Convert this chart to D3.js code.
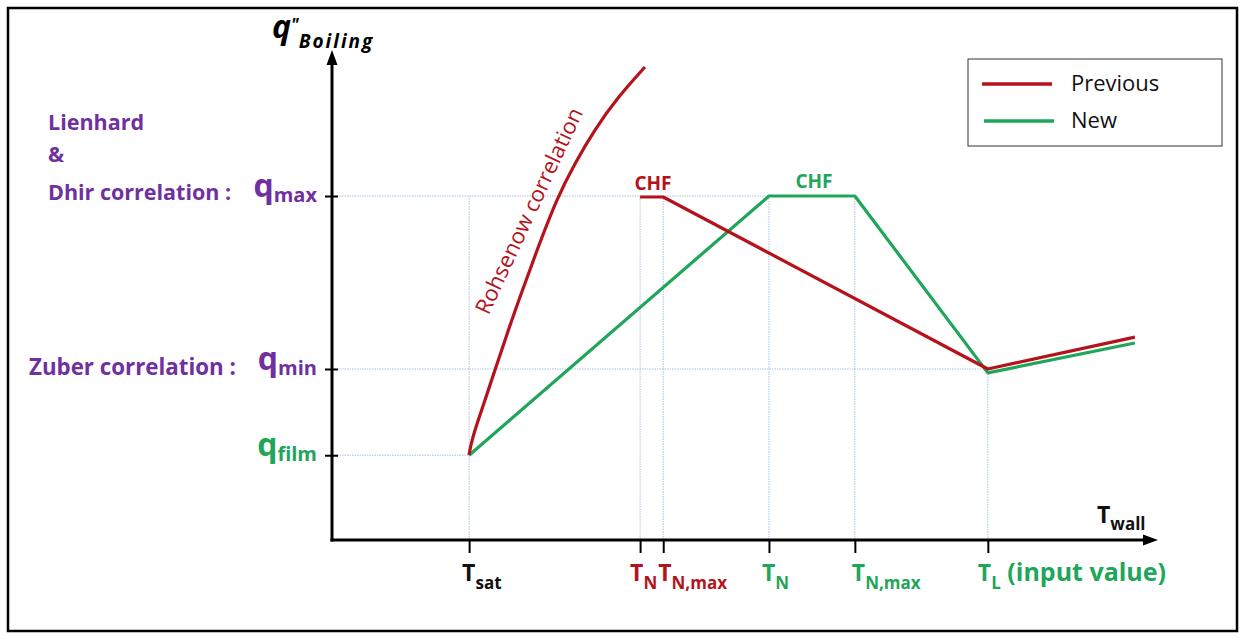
<!DOCTYPE html>
<html>
<head>
<meta charset="utf-8">
<script src="https://cdn.jsdelivr.net/npm/d3@7"></script>
<style>
html,body{margin:0;padding:0;background:#fff;}
svg{display:block;}
text{font-family:"Open Sans",Lato,sans-serif;}
</style>
</head>
<body>
<svg id="chart" width="1245" height="639"></svg>
<script>
// ---- data (abstract units) ----
const seriesNames = ["Previous", "New"];
const xTickValues = [16.6, 37.3, 40.1, 52.9, 63.3, 79.4];
const xTickMain = ["T", "T", "T", "T", "T", "T"];
const xTickSub = ["sat", "N", "N,max", "N", "N,max", "L"];
const xTickExtra = ["", "", "", "", "", " (input value)"];
const xTickColorKey = ["black", "prev", "prev", "new", "new", "new"];
const yTickValues = [70.2, 34.9, 17.3];
const yTickMain = ["q", "q", "q"];
const yTickSub = ["max", "min", "film"];
const yTickColorKey = ["purple", "purple", "new"];
const leftLabelLines = ["Lienhard", "&", "Dhir correlation :", "Zuber correlation :"];
// Rohsenow correlation (previous model, nucleate boiling part)
const prevRohsenow = [[16.59,17.35],[16.83,19.59],[17.31,22.45],[18.04,26.12],[18.89,30.41],[19.73,34.69],[21.07,41.43],[22.52,48.57],[24.82,59.18],[27.24,69.8],[29.42,76.94],[31.84,83.88],[34.62,90.41],[37.89,96.53]];
// Previous model: CHF plateau, transition, film boiling
const prevMain = [[37.3,70.0],[40.1,70.0],[79.4,34.9],[97.2,41.4]];
// New model
const newMain = [[16.6,17.3],[52.9,70.2],[63.3,70.2],[79.4,34.1],[97.2,40.2]];

const colors = {prev:"#b5121b", new:"#1fa65a", purple:"#7030a0", black:"#111", grid:"#a9c4de"};

const svg = d3.select("#chart");
const x = d3.scaleLinear().domain([0,100]).range([332,1158]);
const y = d3.scaleLinear().domain([0,100]).range([540,50]);

// frame
svg.append("rect").attr("x",8).attr("y",8).attr("width",1229).attr("height",623)
  .attr("fill","none").attr("stroke","#000").attr("stroke-width",2.5);

// gridlines
const g = svg.append("g").attr("stroke",colors.grid).attr("stroke-width",1).attr("stroke-dasharray","1.5,1").attr("fill","none");
const qMax = yTickValues[0], qMin = yTickValues[1], qFilm = yTickValues[2];
g.append("line").attr("x1",x(0)).attr("x2",x(xTickValues[4])).attr("y1",y(qMax)).attr("y2",y(qMax));
g.append("line").attr("x1",x(0)).attr("x2",x(xTickValues[5])).attr("y1",y(qMin)).attr("y2",y(qMin));
g.append("line").attr("x1",x(0)).attr("x2",x(xTickValues[0])).attr("y1",y(qFilm)).attr("y2",y(qFilm));
xTickValues.forEach((v,i)=>{
  const top = i===5 ? qMin : qMax;
  g.append("line").attr("x1",x(v)).attr("x2",x(v)).attr("y1",y(top)).attr("y2",y(0));
});

// axes ticks via d3 axes
const xAxis = svg.append("g").attr("transform",`translate(0,${y(0)})`)
  .call(d3.axisBottom(x).tickValues(xTickValues).tickSize(13).tickFormat(""));
xAxis.select(".domain").remove();
xAxis.selectAll(".tick line").attr("stroke","#000").attr("stroke-width",2);
const yAxis = svg.append("g").attr("transform",`translate(${x(0)+6},0)`)
  .call(d3.axisLeft(y).tickValues(yTickValues).tickSize(13).tickFormat(""));
yAxis.select(".domain").remove();
yAxis.selectAll(".tick line").attr("stroke","#000").attr("stroke-width",2);

// axis lines with arrows
svg.append("line").attr("x1",x(0)).attr("x2",x(0)).attr("y1",y(0)+1.5).attr("y2",y(100)+12)
  .attr("stroke","#000").attr("stroke-width",3);
svg.append("path").attr("d",`M${x(0)},${y(100)} L${x(0)-5.5},${y(100)+15} L${x(0)+5.5},${y(100)+15} Z`).attr("fill","#000");
svg.append("line").attr("x1",x(0)-1.5).attr("x2",x(100)-12).attr("y1",y(0)).attr("y2",y(0))
  .attr("stroke","#000").attr("stroke-width",3);
svg.append("path").attr("d",`M${x(100)},${y(0)} L${x(100)-15},${y(0)-5.5} L${x(100)-15},${y(0)+5.5} Z`).attr("fill","#000");

// series lines
const line = d3.line().x(d=>x(d[0])).y(d=>y(d[1]));
const curveLine = d3.line().x(d=>x(d[0])).y(d=>y(d[1])).curve(d3.curveBasis);
svg.append("path").datum(newMain).attr("d",line).attr("fill","none").attr("stroke",colors.new).attr("stroke-width",3.2).attr("stroke-linejoin","round");
svg.append("path").datum(prevMain).attr("d",line).attr("fill","none").attr("stroke",colors.prev).attr("stroke-width",3.2).attr("stroke-linejoin","round");
svg.append("path").datum(prevRohsenow).attr("d",curveLine).attr("fill","none").attr("stroke",colors.prev).attr("stroke-width",3.2);

// Rohsenow label
svg.append("text").attr("transform",`translate(536,214) rotate(-65)`)
  .attr("text-anchor","middle").attr("font-size",22).attr("fill",colors.prev).text("Rohsenow correlation");

// CHF labels
svg.append("text").attr("x",653).attr("y",190).attr("text-anchor","middle").attr("font-size",19).attr("font-weight",700).attr("fill",colors.prev).text("CHF");
svg.append("text").attr("x",814).attr("y",188).attr("text-anchor","middle").attr("font-size",19).attr("font-weight",700).attr("fill",colors.new).text("CHF");

// x tick labels
xTickValues.forEach((v,i)=>{
  const off = i===1 ? -10 : (i===2 ? -5 : (i===4 ? -3 : (i===5 ? -10 : -7)));
  const t = svg.append("text").attr("x",x(v)+off).attr("y",581).attr("font-weight",700).attr("font-size",23)
    .attr("fill",colors[xTickColorKey[i]]);
  t.append("tspan").text(xTickMain[i]);
  t.append("tspan").attr("font-size",17).attr("dy",8).text(xTickSub[i]);
  if (xTickExtra[i]) t.append("tspan").attr("dy",-8).attr("font-size",25).text(xTickExtra[i]);
});
// Twall
const tw = svg.append("text").attr("x",1097).attr("y",523).attr("font-weight",700).attr("font-size",23).attr("fill",colors.black);
tw.append("tspan").text("T");
tw.append("tspan").attr("font-size",17).attr("dy",7).text("wall");

// y tick labels
yTickValues.forEach((v,i)=>{
  const t = svg.append("text").attr("x",317).attr("y",y(v)+1).attr("text-anchor","end").attr("font-weight",700).attr("font-size",32)
    .attr("fill",colors[yTickColorKey[i]]);
  t.append("tspan").text(yTickMain[i]);
  t.append("tspan").attr("font-size",20).attr("dy",5).text(yTickSub[i]);
});

// left correlation labels
const leftPos = [[48,130],[48,162],[48,200],[29,375]];
leftLabelLines.forEach((s,i)=>{
  svg.append("text").attr("x",leftPos[i][0]).attr("y",leftPos[i][1]).attr("font-weight",700).attr("font-size",i===3?22.3:21.5).attr("fill",colors.purple).text(s);
});

// y axis title
const yt = svg.append("text").attr("x",272).attr("y",38).attr("font-family","'Liberation Serif','DejaVu Serif',serif").attr("font-style","italic").attr("font-weight",700).attr("fill","#000");
yt.append("tspan").attr("font-size",32).text("q");
yt.append("tspan").attr("font-size",17).attr("dy",-7).text("\"");
yt.append("tspan").attr("font-size",19).attr("dy",17).attr("letter-spacing",2).text("Boiling");

// legend
const lg = svg.append("g");
lg.append("rect").attr("x",968).attr("y",59).attr("width",254).attr("height",87).attr("fill","#fff").attr("stroke","#333").attr("stroke-width",1);
seriesNames.forEach((n,i)=>{
  const yy = 84 + i*37;
  lg.append("line").attr("x1",982+i*2).attr("x2",1052+i*2).attr("y1",yy).attr("y2",yy).attr("stroke",i===0?colors.prev:colors.new).attr("stroke-width",3.5);
  lg.append("text").attr("x",1071).attr("y",yy+7).attr("font-size",22).attr("fill","#111").text(n);
});
</script>
</body>
</html>
